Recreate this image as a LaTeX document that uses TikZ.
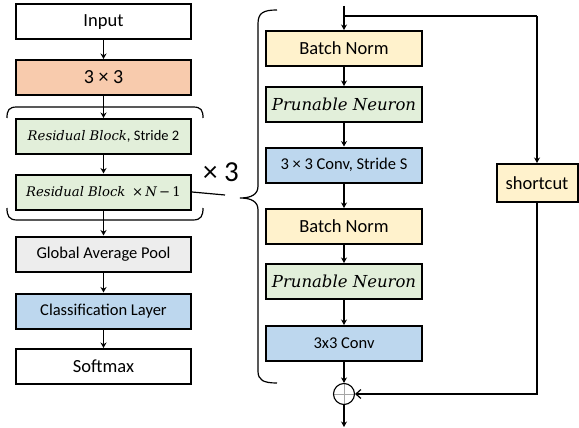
\documentclass[tikz,border=0pt]{standalone}
\usepackage{fontspec}
\setmainfont{Carlito}
\newfontfamily\serifit{DejaVu Serif}
\usetikzlibrary{arrows.meta}
\definecolor{cOrange}{HTML}{F8CBAD}
\definecolor{cGreen}{HTML}{E2EFDA}
\definecolor{cGrey}{HTML}{EDEDED}
\definecolor{cBlue}{HTML}{BDD7EE}
\definecolor{cYellow}{HTML}{FFF2CC}
\newcommand{\mitx}[1]{{\serifit\itshape #1}}
\tikzset{
  blk/.style={draw=black, line width=2pt, inner sep=0pt, minimum height=35pt},
  lblk/.style={blk, minimum width=175pt},
  rblk/.style={blk, minimum width=156pt},
  conn/.style={line width=1.2pt, -{Stealth[length=5.5pt,width=6pt]}},
  plain/.style={line width=1.2pt},
  brk/.style={line width=1.2pt}
}
\begin{document}
\begin{tikzpicture}[x=1pt,y=-1pt]
\useasboundingbox (0,0) rectangle (579,428);
% left column
\node[lblk, fill=white, font=\fontsize{18.5}{20}\selectfont] (in) at (103.5,22) {Input};
\node[lblk, fill=cOrange, font=\fontsize{20}{22}\selectfont] (c33) at (103.5,77.5) {3 × 3};
\node[lblk, fill=cGreen, font=\fontsize{14.5}{16}\selectfont] (res1) at (103.5,136.5) {{\fontsize{13.2}{15}\selectfont\mitx{Residual Block}}, Stride 2};
\node[lblk, fill=cGreen, font=\fontsize{13.2}{15}\selectfont] (res2) at (103.5,192) {\mitx{Residual Block}\enspace{\serifit ×}\,\mitx{N}\,{\serifit −}\,{\serifit 1}};
\node[lblk, fill=cGrey, font=\fontsize{16.5}{18}\selectfont] (gap) at (103.5,254) {Global Average Pool};
\node[lblk, fill=cBlue, font=\fontsize{16.5}{18}\selectfont] (cls) at (103.5,311) {Classification Layer};
\node[lblk, fill=white, font=\fontsize{18.5}{20}\selectfont] (sm) at (103.5,366.5) {Softmax};
\draw[conn] (in) -- (c33);
\draw[conn] (c33) -- (res1);
\draw[conn] (res1) -- (res2);
\draw[conn] (res2) -- (gap);
\draw[conn] (gap) -- (cls);
\draw[conn] (cls) -- (sm);
% left bracket
\draw[brk] (7,118) .. controls (7,110) and (9,107) .. (17,107) -- (193,107) .. controls (201,107) and (203,110) .. (203,118);
\draw[brk] (7,208) .. controls (7,216) and (9,220) .. (17,220) -- (193,220) .. controls (201,220) and (203,216) .. (203,208);
\node[font=\fontsize{29}{32}\selectfont, inner sep=0pt] (times) at (221,172) {× 3};
\coordinate (lend) at (225,195);
\draw[plain] (res2.east) -- (lend);
% right brace
\draw[brk] (277,10) .. controls (263,10) and (258,13) .. (258,24) -- (258,186) .. controls (258,194) and (252,198) .. (240,198) .. controls (252,198) and (258,202) .. (258,210) -- (258,371) .. controls (258,380) and (263,383) .. (277,383);
% right column
\node[rblk, fill=cYellow, font=\fontsize{18.5}{20}\selectfont] (bn1) at (344,48.5) {Batch Norm};
\node[rblk, fill=cGreen, font=\fontsize{16.5}{20}\selectfont] (pn1) at (344,104.5) {\mitx{Prunable Neuron}};
\node[rblk, fill=cBlue, font=\fontsize{16.5}{18}\selectfont] (cv1) at (344,165) {3 × 3 Conv, Stride S};
\node[rblk, fill=cYellow, font=\fontsize{18.5}{20}\selectfont] (bn2) at (344,226.5) {Batch Norm};
\node[rblk, fill=cGreen, font=\fontsize{16.5}{20}\selectfont] (pn2) at (344,281.5) {\mitx{Prunable Neuron}};
\node[rblk, fill=cBlue, font=\fontsize{16.5}{18}\selectfont] (cv2) at (344,343.5) {3x3 Conv};
\node[blk, fill=cYellow, minimum width=81pt, minimum height=38pt, font=\fontsize{18.5}{20}\selectfont] (sc) at (537,183) {shortcut};
\node[draw=black, line width=1.1pt, circle, minimum size=21pt, inner sep=0pt,
  path picture={\draw[gray!70, line width=0.7pt] (path picture bounding box.north) -- (path picture bounding box.south)
    (path picture bounding box.west) -- (path picture bounding box.east);}] (plus) at (344,394) {};
\coordinate (top) at (344,6);
\coordinate (split) at (344,16);
\coordinate (out) at (344,427);
\draw[conn] (top) -- (bn1);
\draw[plain] (split) -- (537,16);
\draw[conn] (537,16) -- (sc);
\draw[conn] (bn1) -- (pn1);
\draw[conn] (pn1) -- (cv1);
\draw[conn] (cv1) -- (bn2);
\draw[conn] (bn2) -- (pn2);
\draw[conn] (pn2) -- (cv2);
\draw[conn] (cv2) -- (plus);
\draw[line width=1.2pt, -{Straight Barb[length=5pt,width=9pt]}] (sc.south) |- (plus.east);
\draw[conn] (plus) -- (out);
\end{tikzpicture}
\end{document}
